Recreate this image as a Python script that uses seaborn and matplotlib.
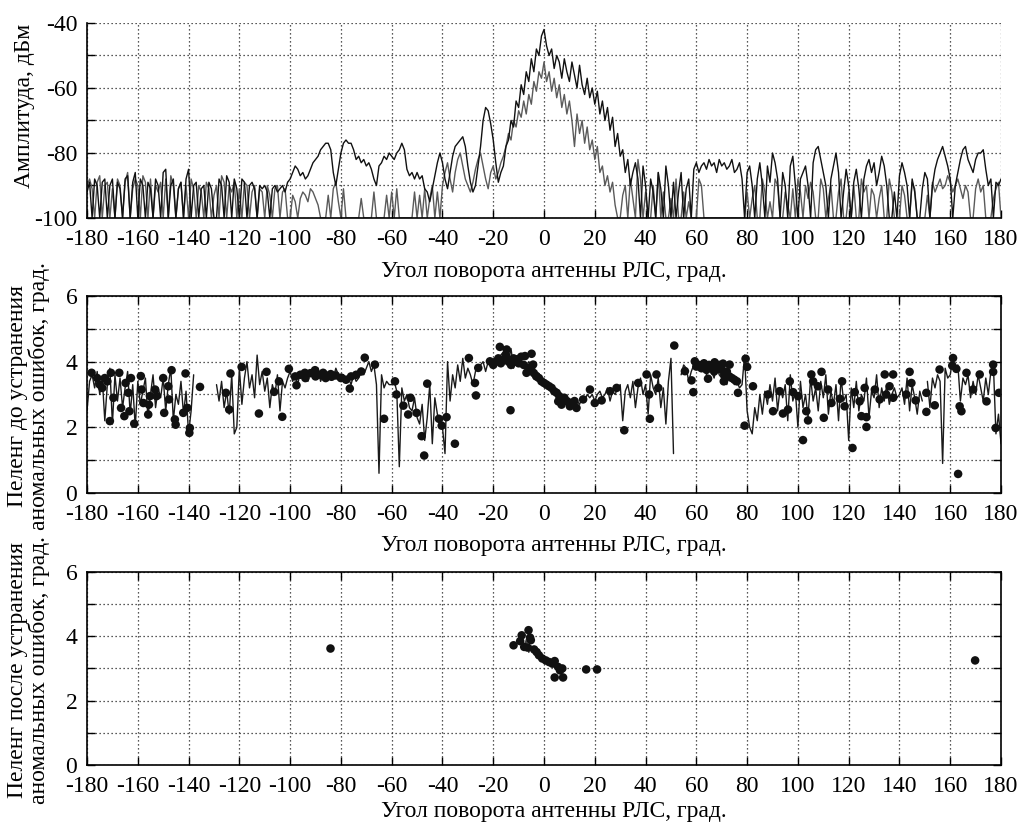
import numpy as np
import pandas as pd
import matplotlib
matplotlib.use("Agg")
import matplotlib.pyplot as plt
import seaborn as sns
from matplotlib.ticker import MultipleLocator

# ---------------- data ----------------
# angle grid for the amplitude traces and the raw bearing trace (1 deg step)
angle = list(range(-180, 181))

# amplitude, dBm - trace 1 (dark)
amp1 = (
    [-92, -89, -100, -88, -90, -100, -89, -88, -100, -90, -88, -100, -89, -91, -100, -88, -87, -100, -89, -86]
    + [-100, -88, -90, -100, -89, -91, -100, -88, -90, -100, -86, -85, -100, -90, -88, -100, -91, -89, -100, -88]
    + [-85, -100, -90, -89, -100, -91, -90, -100, -89, -91, -100, -100, -88, -90, -100, -87, -89, -100, -88, -91]
    + [-100, -88, -89, -100, -90, -89, -91, -100, -90, -91, -90, -92, -100, -91, -90, -92, -91, -90, -92, -89]
    + [-88, -86, -84, -85, -87, -86, -88, -87, -85, -83, -82, -81, -79, -78, -77, -77, -79, -86, -90, -85]
    + [-80, -77, -76, -77, -77, -79, -82, -81, -83, -82, -84, -83, -85, -88, -90, -84, -83, -81, -82, -80]
    + [-81, -82, -80, -79, -77, -79, -85, -87, -86, -88, -86, -88, -87, -91, -92, -95, -91, -87, -83, -80]
    + [-83, -88, -91, -86, -81, -78, -77, -76, -75, -78, -84, -89, -92, -90, -84, -78, -70, -66, -67, -71]
    + [-76, -83, -89, -86, -84, -78, -76, -70, -72, -64, -66, -59, -62, -55, -58, -51, -55, -48, -50, -44]
    + [-42, -47, -50, -48, -54, -50, -52, -57, -51, -55, -58, -52, -56, -60, -53, -59, -62, -57, -63, -60]
    + [-65, -61, -68, -64, -70, -66, -73, -69, -78, -74, -81, -79, -86, -82, -90, -86, -83, -88, -100, -84]
    + [-90, -100, -88, -92, -100, -86, -91, -100, -84, -90, -100, -89, -100, -92, -86, -100, -91, -88, -100, -85]
    + [-83, -86, -84, -83, -85, -82, -84, -83, -86, -82, -84, -83, -85, -84, -82, -86, -85, -83, -88, -100]
    + [-86, -84, -90, -100, -88, -83, -90, -100, -84, -89, -80, -83, -88, -100, -86, -90, -100, -84, -81, -90]
    + [-100, -88, -86, -84, -90, -100, -83, -79, -78, -82, -86, -90, -100, -88, -84, -80, -86, -100, -92, -85]
    + [-90, -100, -89, -85, -91, -100, -88, -84, -82, -86, -83, -90, -86, -81, -84, -90, -100, -100, -92, -100]
    + [-87, -83, -86, -90, -100, -88, -92, -100, -100, -91, -86, -88, -100, -90, -85, -82, -80, -78, -81, -84]
    + [-88, -100, -90, -86, -82, -79, -78, -82, -84, -86, -82, -80, -80, -79, -85, -90, -88, -100, -89, -90, -88]
)

# amplitude, dBm - trace 2 (grey)
amp2 = (
    [-90, -88, -91, -100, -89, -87, -100, -90, -89, -100, -91, -100, -88, -90, -100, -89, -86, -100, -91, -88]
    + [-90, -100, -87, -89, -100, -88, -100, -90, -92, -89, -100, -88, -100, -87, -90, -100, -91, -89, -100, -90]
    + [-100, -88, -91, -100, -90, -92, -100, -89, -91, -100, -93, -90, -100, -87, -89, -100, -90, -92, -89, -100]
    + [-91, -100, -89, -90, -100, -92, -90, -100, -91, -92, -100, -90, -93, -100, -91, -90, -100, -92, -91, -100]
    + [-100, -93, -95, -100, -94, -92, -93, -95, -91, -92, -94, -96, -100, -100, -100, -93, -100, -91, -89, -95]
    + [-100, -91, -100, -100, -100, -100, -100, -100, -94, -100, -100, -100, -100, -92, -100, -100, -100, -100, -93, -100]
    + [-92, -100, -91, -100, -100, -100, -100, -100, -100, -92, -100, -93, -100, -91, -100, -94, -90, -100, -92, -100]
    + [-90, -86, -83, -88, -92, -86, -82, -80, -84, -88, -90, -92, -89, -85, -82, -80, -84, -88, -91, -86]
    + [-84, -88, -86, -83, -81, -78, -74, -76, -70, -72, -67, -69, -64, -68, -62, -65, -58, -61, -55, -57]
    + [-52, -58, -55, -61, -57, -63, -59, -66, -62, -68, -64, -70, -78, -68, -74, -70, -77, -72, -79, -76]
    + [-82, -78, -86, -84, -90, -87, -92, -89, -96, -100, -100, -93, -90, -100, -88, -94, -100, -82, -88, -100]
    + [-92, -100, -100, -90, -100, -86, -100, -92, -100, -100, -94, -100, -88, -100, -100, -92, -100, -95, -100, -100]
    + [-100, -88, -90, -100, -100, -100, -100, -100, -100, -100, -100, -100, -100, -100, -100, -100, -100, -100, -100, -100]
    + [-92, -100, -94, -90, -100, -100, -88, -92, -100, -95, -100, -88, -90, -100, -100, -92, -96, -100, -91, -100]
    + [-88, -92, -100, -90, -94, -89, -92, -100, -100, -88, -91, -100, -94, -90, -100, -100, -92, -88, -100, -100]
    + [-92, -100, -90, -100, -100, -88, -92, -90, -100, -91, -93, -100, -94, -90, -100, -100, -88, -92, -100, -100]
    + [-100, -90, -93, -100, -100, -89, -91, -100, -100, -100, -100, -93, -100, -89, -92, -90, -88, -91, -90, -87]
    + [-89, -92, -90, -88, -91, -94, -90, -92, -100, -100, -91, -88, -92, -90, -100, -100, -100, -94, -91, -89, -100]
)

nan = float("nan")
# bearing before removal of anomalous errors, deg (raw trace)
bearing_raw = (
    [2.5, 3.4, 3.6, 3.2, 3.7, 3.0, 3.5, 2.2, 3.3, 3.8, 2.1, 3.6, 2.8, 3.5, 2.6, 3.2, 3.7, 2.4, 3.3, 2.0]
    + [3.4, 2.7, 3.1, 3.5, 2.3, 3.0, 3.6, 2.6, 3.2, 2.9, 3.5, 2.5, 3.3, 3.8, 2.2, 3.0, 2.7, 3.4, 2.4, 3.1]
    + [1.8, 2.5, 3.6, nan, nan, nan, nan, nan, nan, nan, nan, 3.3, 2.8, 3.4, 2.6, 3.1, 2.4, 3.6, 1.8, 2.0]
    + [3.8, 2.7, 3.5, 4.0, 3.2, 3.6, 2.9, 4.2, 3.3, 3.7, 3.1, 3.5, 2.6, 3.3, 3.0, 3.6, 2.5, 3.4, 3.2, 3.5]
    + [3.7, 3.4, 3.6, 3.3, 3.7, 3.5, 3.6, 3.4, 3.7, 3.5, 3.6, 3.8, 3.4, 3.6, 3.5, 3.7, 3.6, 3.5, 3.8, 3.6]
    + [3.5, 3.6, 3.4, 3.5, 3.3, 3.6, 3.4, 3.5, 3.7, 3.6, 3.8, 4.0, 3.7, 3.9, 3.3, 0.6, 3.6, 3.2, 3.4, 3.3]
    + [3.3, 3.4, 3.1, 0.8, 3.2, 2.8, 3.0, 2.6, 2.5, 2.9, 2.3, 2.1, 2.7, 1.6, 2.3, 3.3, 1.5, 2.9, 2.4, 2.1]
    + [2.0, 1.2, 4.0, 2.8, 3.6, 3.2, 3.9, 3.4, 4.1, 3.5, 3.8, 3.6, 3.3, 3.7, 3.8, 3.9, 4.0, 3.7, 4.0, 3.9]
    + [4.0, 4.1, 3.9, 4.2, 4.3, 4.1, 4.0, 4.4, 3.8, 4.1, 4.2, 4.0, 3.9, 3.8, 4.0, 3.9, 3.7, 3.6, 3.5, 3.5]
    + [3.4, 3.3, 3.3, 3.2, 3.1, 3.0, 3.0, 2.9, 2.9, 2.8, 2.8, 2.7, 2.9, 2.8, 2.7, 2.9, 2.8, 3.0, 2.9, 3.0]
    + [2.8, 3.0, 3.1, 2.9, 3.0, 3.2, 2.8, 3.1, 3.0, 3.2, 3.3, 2.2, 3.1, 3.3, 2.9, 3.4, 2.6, 3.2, 3.5, 3.0]
    + [3.3, 2.4, 3.6, 3.2, 3.0, 3.5, 2.6, 3.2, 2.1, 3.4, 4.1, 1.2, nan, nan, 3.6, 3.9, 3.8, 3.4, 3.7, 3.9]
    + [4.0, 3.8, 3.7, 3.9, 3.6, 3.8, 3.7, 3.5, 3.9, 3.6, 3.5, 3.4, 3.3, 3.6, 3.4, 3.3, 3.4, 3.2, 3.3, 4.2]
    + [2.5, 2.0, 1.8, 2.6, 2.2, 3.0, 2.4, 3.1, 2.7, 3.3, 2.8, 3.5, 2.5, 3.2, 2.9, 3.3, 2.2, 3.6, 2.8, 3.1]
    + [2.0, 3.4, 2.6, 3.0, 2.3, 3.5, 2.8, 3.2, 2.5, 3.4, 2.9, 3.6, 2.4, 3.1, 2.7, 3.3, 2.2, 3.5, 2.8, 3.0]
    + [1.6, 3.2, 2.6, 3.4, 2.5, 3.0, 2.8, 3.5, 2.3, 3.1, 2.9, 3.6, 2.6, 3.2, 2.8, 3.3, 2.7, 3.0, 3.2, 2.9]
    + [3.0, 3.2, 2.7, 3.5, 2.5, 3.3, 2.9, 2.4, 3.1, 2.8, nan, 3.4, 2.6, 3.5, 3.2, 3.6, 3.4, 0.9, 3.8, 3.5]
    + [3.6, 4.1, 3.7, 3.9, 2.8, 3.5, 3.3, 3.6, 2.9, 3.4, 3.0, 3.6, 3.2, 2.8, 3.5, 3.0, 3.7, 3.9, 1.8, 2.4, 1.5]
)

# bearing estimates (dots) before removal of anomalous errors
dots_before_deg = [
    -178.2, -176, -175, -174, -173, -172, -171.0, -170.6, -169.6, -167.3, -166.6, -165.3, -164.8, -163.7,
    -163.3, -162.7, -161.4, -158.8, -158.5, -157.8, -155.9, -155.6, -155.2, -153.2, -152.6, -150.0,
    -149.6, -148.0, -147.7, -146.7, -145.4, -145.1, -142.1, -141.2, -140.5, -139.7, -139.5, -135.5,
    -125.3, -124.0, -123.5, -119.1, -112.3, -109.3, -106.3, -104.4, -103.1, -100.5, -97.5, -94.2,
    -90.2, -87.0, -83.7, -79.8, -76.5, -70.6, -66.6, -63.0,
    -98, -96, -94, -92, -90, -88, -86, -84, -82, -80, -78, -76, -74, -72,
    -58.7, -58.1, -55.4, -53.5, -52.6, -50.2, -48.2, -47.2, -46.0, -41.4, -40.3, -38.4, -35.1,
    -29.6, -27.2, -26.8, -25.9, -21.3, -17.4, -14.7, -13.2, -10.8, -7.5, -4.9, -6.9, -4.3, -3.0,
    -20, -19, -18, -17, -16, -15, -14, -13, -12, -11, -10, -9, -8,
    -6, -5, -4, -3, -2, -1, 0, 1, 2, 3, 4, 5, 6, 7, 8, 9, 10, 11, 12,
    5.6, 6.9, 10.2, 12.8, 15.4, 18.1, 20.0, 22.7, 26.0, 28.6, 31.6, 37.1, 40.4, 44.3, 41.4, 41.7,
    45.0, 51.3, 55.5, 58.1, 58.8, 59.4,
    60, 61, 62, 63, 64, 65, 66, 67, 68, 69, 70, 71, 72, 73, 74, 75, 76,
    62.6, 64.6, 67.2, 70.5, 70.8, 73.1, 76.4, 79.0, 79.4, 80.0, 82.3, 88.2, 90.2, 92.8, 94.1, 96.1,
    96.8, 98.1, 100.1, 102.0, 103.3, 104.0, 105.3, 106.0, 107.9, 109.3, 110.2, 111.9, 113.2, 116.5,
    117.4, 118.4, 121.5, 122.4, 124.3, 125.0, 126.3, 127.0, 127.0, 130.3, 132.2, 134.2, 134.8, 136.1,
    137.5, 137.5, 142.7, 144.0, 144.7, 146.4, 150.6, 150.6, 153.9, 155.8, 160.8, 161.1, 162.4, 163.1,
    163.7, 164.4, 166.4, 169.0, 171.6, 174.3, 176.9, 176.9, 177.9, 179.2,
]
dots_before_val = [
    3.66, 3.5, 3.3, 3.2, 3.5, 3.4, 2.19, 3.66, 2.9, 3.66, 2.59, 2.34, 3.35, 3.05,
    2.49, 3.5, 2.11, 3.56, 3.15, 2.74, 2.39, 2.69, 2.95, 3.15, 2.95, 3.5,
    2.44, 3.25, 2.85, 3.74, 2.24, 2.08, 2.44, 3.64, 2.59, 1.83, 1.98, 3.23,
    3.05, 2.54, 3.64, 3.84, 2.42, 3.69, 3.08, 3.40, 2.32, 3.78, 3.28, 3.66,
    3.74, 3.66, 3.54, 3.51, 3.18, 4.12, 3.91, 2.26,
    3.55, 3.6, 3.5, 3.65, 3.55, 3.6, 3.5, 3.62, 3.58, 3.5, 3.45, 3.55, 3.6, 3.7,
    3.40, 3.0, 2.66, 2.39, 2.90, 2.44, 1.73, 1.14, 3.33, 2.26, 2.05, 2.31, 1.50,
    4.11, 3.35, 2.97, 3.81, 4.01, 4.45, 4.37, 2.52, 4.07, 4.17, 4.24, 3.66, 3.91, 3.56,
    3.9, 4.0, 4.1, 3.95, 4.05, 4.2, 4.0, 3.9, 4.1, 4.0, 3.95, 4.15, 3.9,
    3.8, 3.75, 3.65, 3.55, 3.5, 3.4, 3.35, 3.3, 3.25, 3.2, 3.1, 3.05, 2.95, 2.85, 2.9, 2.8, 2.75, 2.7, 2.8,
    2.79, 2.69, 2.64, 2.59, 2.85, 3.15, 2.74, 2.82, 3.10, 3.20, 1.91, 3.35, 3.61, 3.61, 3.0, 2.26,
    3.2, 4.49, 3.71, 3.43, 3.07, 4.01,
    3.85, 3.9, 3.8, 3.95, 3.75, 3.9, 3.85, 3.7, 3.8, 3.9, 3.75, 3.6, 3.7, 3.55, 3.5, 3.45, 3.4,
    3.9, 3.48, 3.98, 3.94, 3.40, 3.91, 3.05, 2.05, 4.09, 3.84, 3.25, 3.0, 2.49, 3.10, 2.42, 2.54,
    3.40, 3.07, 2.95, 1.61, 2.49, 2.21, 3.61, 3.40, 3.25, 3.69, 2.29, 3.15, 2.74, 2.87,
    3.40, 2.64, 1.37, 3.07, 2.79, 2.34, 3.20, 2.31, 2.01, 3.15, 2.85, 3.61, 3.0, 3.25,
    3.61, 2.90, 3.0, 3.69, 3.35, 2.82, 3.05, 2.47, 2.67, 3.76, 3.88, 4.11, 3.78, 0.58,
    2.64, 2.49, 3.66, 3.15, 3.61, 2.79, 3.91, 3.69, 1.98, 3.05,
]

# bearing after removal of anomalous errors
after_line_deg = [-9, -8, -7, -6, -5, -4, -3, -2, -1, 0, 1, 2, 3, 4, 5]
after_line_val = [3.8, 3.6, 3.9, 3.5, 3.7, 3.55, 3.45, 3.5, 3.35, 3.3, 3.3, 3.2, 3.25, 3.15, 3.1]
dots_after_deg = [-84.1, -12.0, -9.4, -8.8, -6.1, -5.5, -5.2, -7.8, -6.5, -3.9, -2.9, -2.0, -0.7,
                  0.7, 2.0, 3.3, 4.2, 4.2, 5.5, 6.3, 7.2, 7.5, 16.6, 20.9, 169.8]
dots_after_val = [3.62, 3.72, 3.85, 4.03, 4.19, 3.96, 3.88, 3.67, 3.65, 3.59, 3.51, 3.41, 3.31,
                  3.25, 3.20, 3.15, 3.23, 2.72, 3.05, 2.94, 3.0, 2.72, 2.97, 2.97, 3.25]

xticks = list(range(-180, 181, 20))
xlabel = "Угол поворота антенны РЛС, град."
ylabels = ["Амплитуда, дБм",
           "Пеленг до устранения\nаномальных ошибок, град.",
           "Пеленг после устранения\nаномальных ошибок, град."]

# ---------------- style ----------------
sns.set_theme(style="white")
plt.rcParams["font.family"] = ["Liberation Serif", "DejaVu Serif"]
plt.rcParams["axes.unicode_minus"] = False
FS = 17


def segments(x, y):
    # split a trace at NaN gaps so seaborn does not bridge them
    df = pd.DataFrame({"x": x, "y": y})
    df["seg"] = df["y"].isna().cumsum()
    return df.dropna()


def style_axes(ax, ylim, ymaj, ymin, box=True):
    ax.set_xlim(-180, 180)
    ax.set_ylim(*ylim)
    ax.set_xticks(xticks)
    ax.yaxis.set_major_locator(MultipleLocator(ymaj))
    ax.yaxis.set_minor_locator(MultipleLocator(ymin))
    grid_kw = dict(color="#222222", linestyle=(0, (1, 2.2)), linewidth=0.9)
    ax.grid(True, which="both", axis="y", **grid_kw)
    ax.grid(True, which="major", axis="x", **grid_kw)
    ax.set_axisbelow(True)
    ax.tick_params(which="both", direction="in", length=6, width=1, color="black",
                   bottom=True, left=True, top=box, right=box, labelsize=FS, labelcolor="black")
    ax.tick_params(axis="x", pad=8)
    ax.tick_params(axis="y", pad=7)
    for name, sp in ax.spines.items():
        sp.set_color("black")
        sp.set_linewidth(1.2)
    if not box:
        ax.spines["top"].set_visible(False)
        ax.spines["right"].set_visible(False)


fig = plt.figure(figsize=(10.25, 8.27), dpi=100)
W = 0.8917
ax1 = fig.add_axes([0.0849, 0.7364, W, 0.2358])
ax2 = fig.add_axes([0.0849, 0.4039, W, 0.2382])
ax3 = fig.add_axes([0.0849, 0.0750, W, 0.2334])

# panel 1: amplitudes
sns.lineplot(x=angle, y=amp2, ax=ax1, color="#5a5a5a", linewidth=1.0, estimator=None, sort=False)
sns.lineplot(x=angle, y=amp1, ax=ax1, color="#111111", linewidth=1.0, estimator=None, sort=False)
style_axes(ax1, (-100, -40), 20, 10, box=False)

# panel 2: bearing before
raw = segments(angle, bearing_raw)
sns.lineplot(data=raw, x="x", y="y", units="seg", estimator=None, sort=False, ax=ax2,
             color="#1a1a1a", linewidth=1.0)
sns.scatterplot(x=dots_before_deg, y=dots_before_val, ax=ax2, color="#111111",
                s=38, edgecolor="none", zorder=3)
style_axes(ax2, (0, 6), 2, 1)

# panel 3: bearing after
sns.lineplot(x=after_line_deg, y=after_line_val, ax=ax3, color="#444444", linewidth=1.0,
             estimator=None, sort=False)
sns.scatterplot(x=dots_after_deg, y=dots_after_val, ax=ax3, color="#111111",
                s=38, edgecolor="none", zorder=3)
style_axes(ax3, (0, 6), 2, 1)

label_pos = [(-0.068, 0.575), (-0.0635, 0.49), (-0.0635, 0.49)]
xlab_y = [-0.272, -0.269, -0.2435]
for ax, yl, (lx, ly), xy in zip([ax1, ax2, ax3], ylabels, label_pos, xlab_y):
    ax.set_ylabel(yl, fontsize=FS, va="center", linespacing=1.0, color="black")
    ax.yaxis.set_label_coords(lx, ly)
    ax.set_xlabel(xlabel, fontsize=FS, va="center", color="black")
    ax.xaxis.set_label_coords(0.511, xy)

fig.savefig("out.png", dpi=100)
